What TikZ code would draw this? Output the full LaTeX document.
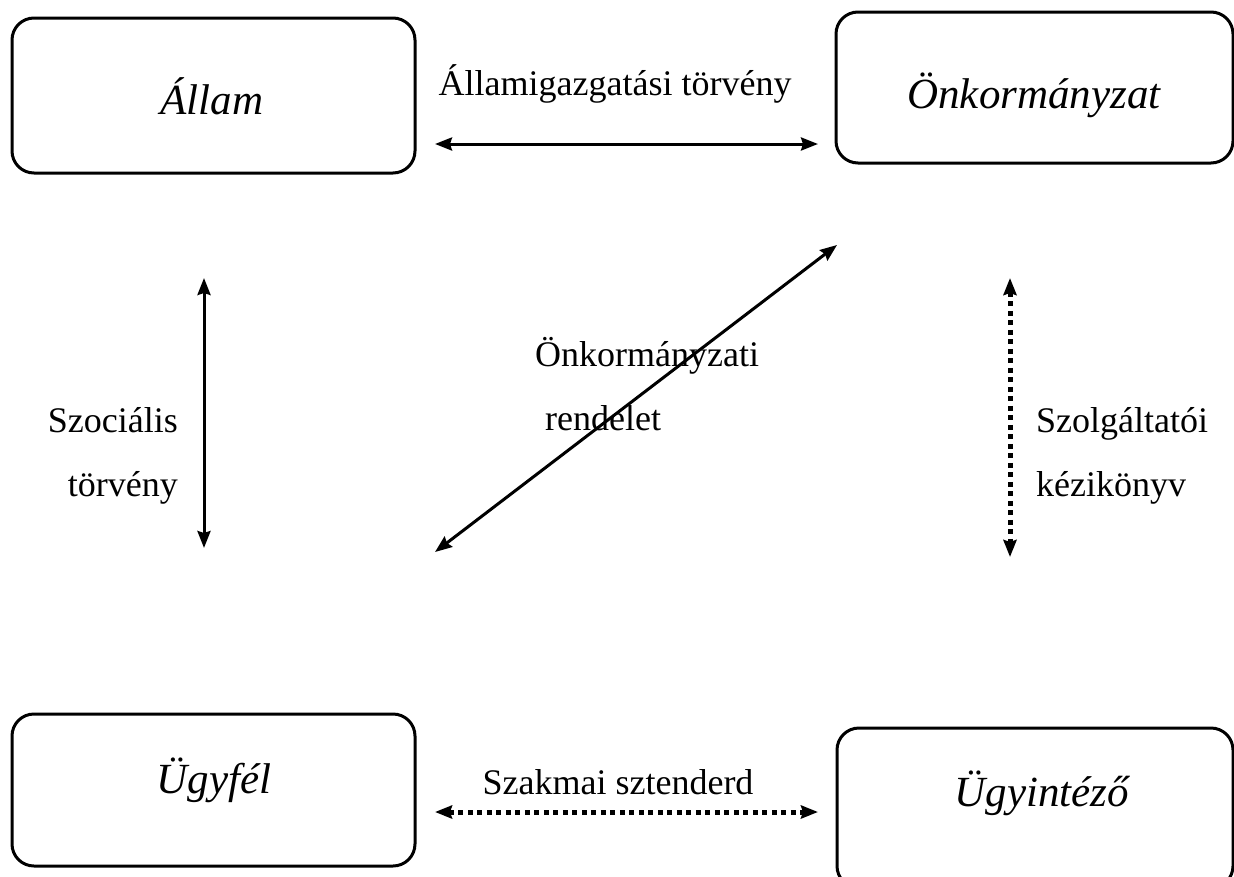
\documentclass[tikz,border=0pt]{standalone}
\usepackage{fontspec}
\setmainfont{Liberation Serif}
\usetikzlibrary{arrows.meta}
\begin{document}
\begin{tikzpicture}[x=1pt,y=-1pt,
  box/.style={draw, line width=3pt, rounded corners=22pt, inner sep=0pt},
  boxlabel/.style={font=\fontsize{43}{50}\selectfont\itshape, anchor=base, inner sep=0pt},
  lbl/.style={font=\fontsize{36}{42}\selectfont, inner sep=0pt},
  conn/.style={line width=3pt, {Stealth[length=17pt,width=13pt,inset=2pt]}-{Stealth[length=17pt,width=13pt,inset=2pt]}},
  dotconn/.style={conn, line width=5pt, dash pattern=on 5pt off 4.5pt}]
\useasboundingbox (0,0) rectangle (1234,876);
% boxes
\node[box, minimum width=403pt, minimum height=155pt] (allam) at (213.5,95.5) {};
\node[box, minimum width=397pt, minimum height=151pt] (onk) at (1034.5,87.5) {};
\node[box, minimum width=403pt, minimum height=152pt] (ugyfel) at (213.5,790) {};
\node[box, minimum width=396pt, minimum height=160pt] (ugyint) at (1035,808) {};
% box labels
\node[boxlabel] (tallam) at (212,114) {Állam};
\node[boxlabel] (tonk) at (1034,108) {Önkormányzat};
\node[boxlabel] (tugyfel) at (214,793) {Ügyfél};
\node[boxlabel] (tugyint) at (1042,806) {Ügyintéző};
% connector end points
\coordinate (h1a) at (435,144);
\coordinate (h1b) at (818,144);
\coordinate (v1a) at (204,278);
\coordinate (v1b) at (204,548);
\coordinate (d1a) at (837,245);
\coordinate (d1b) at (435,552);
\coordinate (v2a) at (1010,278);
\coordinate (v2b) at (1010,557);
\coordinate (h2a) at (435,812);
\coordinate (h2b) at (818,812);
% connectors
\draw[conn] (h1a) -- (h1b);
\draw[conn] (v1a) -- (v1b);
\draw[conn] (d1b) -- (d1a);
\draw[dotconn] (v2a) -- (v2b);
\draw[dotconn] (h2a) -- (h2b);
% labels
\node[lbl, anchor=base] (l1) at (615,95) {Államigazgatási törvény};
\node[lbl, anchor=base east] (l2a) at (178,432) {Szociális};
\node[lbl, anchor=base east] (l2b) at (178,496) {törvény};
\node[lbl, anchor=base west] (l3a) at (535,366) {Önkormányzati};
\node[lbl, anchor=base west] (l3b) at (545,430) {rendelet};
\node[lbl, anchor=base west] (l4a) at (1036,432) {Szolgáltatói};
\node[lbl, anchor=base west] (l4b) at (1036,496) {kézikönyv};
\node[lbl, anchor=base] (l5) at (618,794) {Szakmai sztenderd};
\end{tikzpicture}
\end{document}
